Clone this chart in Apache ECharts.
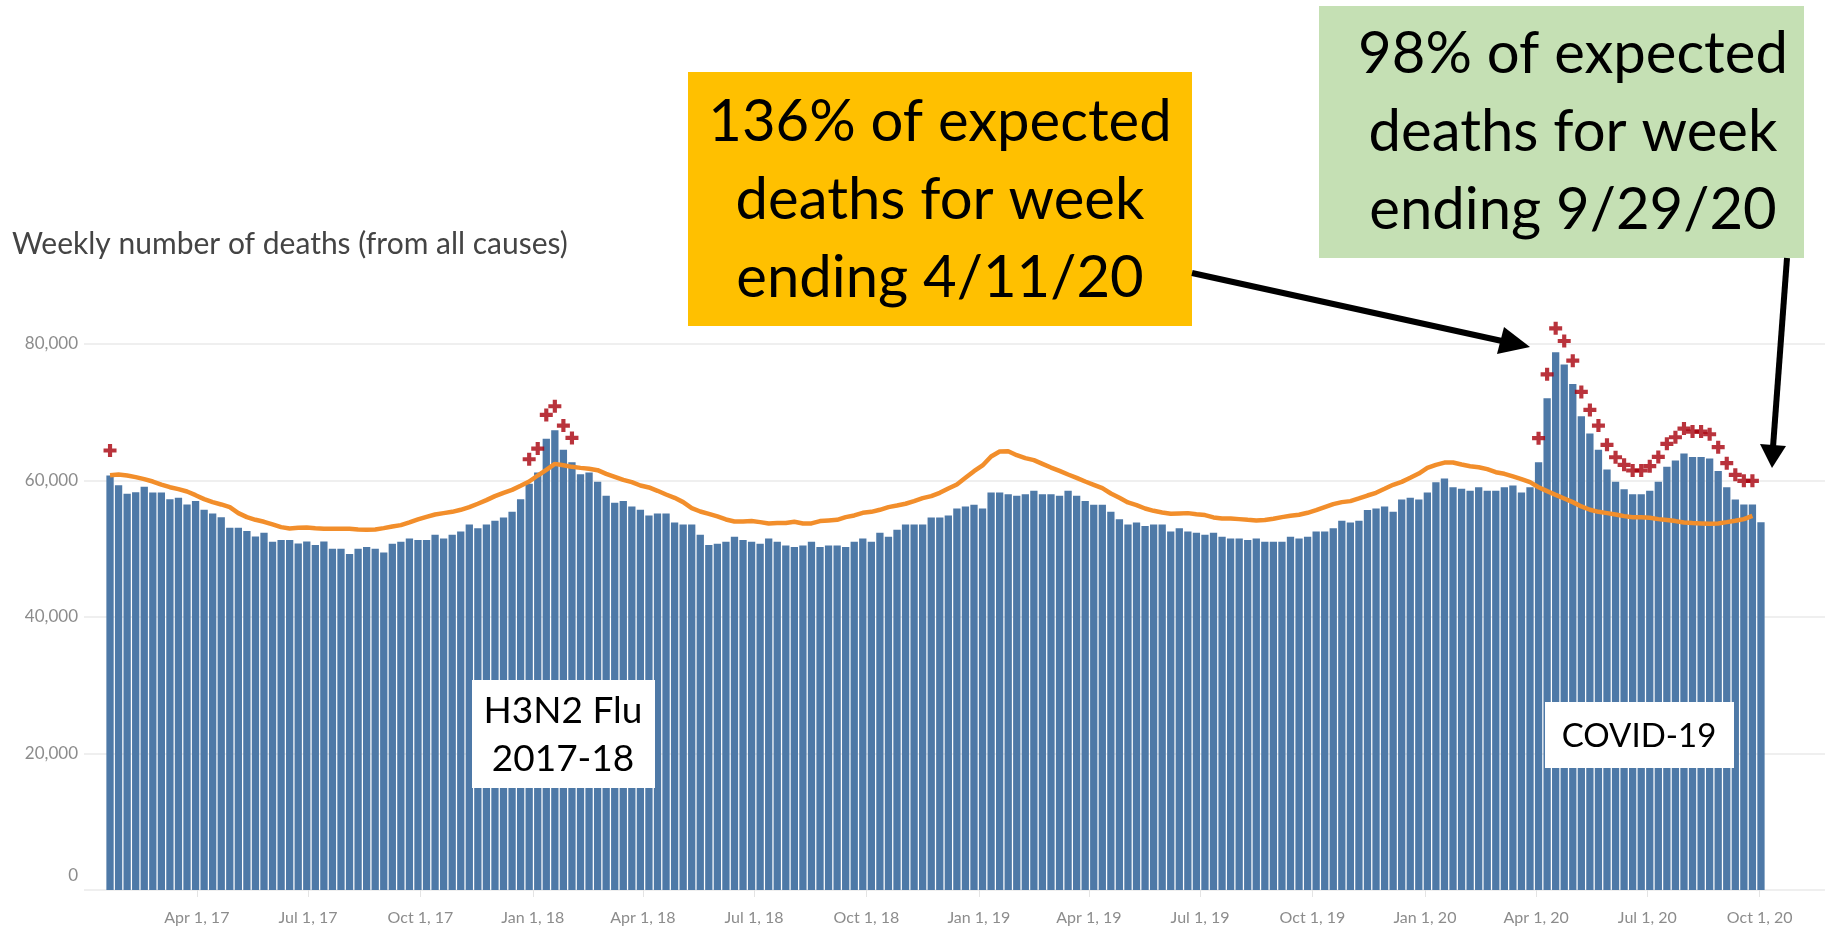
<!DOCTYPE html>
<html>
<head>
<meta charset="utf-8">
<title>Weekly number of deaths</title>
<script src="https://cdn.jsdelivr.net/npm/echarts@6.0.0/dist/echarts.min.js"></script>
<style>
  html, body { margin: 0; padding: 0; background: #fff; }
  #chart { width: 1825px; height: 932px; }
</style>
</head>
<body>
<div id="chart"></div>
<script>
// Weekly deaths (all causes), weeks ending Sat 14 Jan 2017 .. 26 Sep 2020
const DAY = 86400000;
const firstWeek = Date.UTC(2017, 0, 14);

const weeklyDeaths = [
  60730, 59320, 58050, 58290, 59070, 58240, 58240, 57270, 57460, 56490,
  56980, 55710, 55170, 54630, 53070, 53070, 52590, 51810, 52340, 51020,
  51270, 51270, 50780, 51070, 50540, 51070, 50000, 50000, 49220, 50000,
  50240, 50000, 49460, 50730, 51020, 51510, 51270, 51270, 52050, 51510,
  52050, 52540, 53560, 53020, 53560, 54100, 54590, 55410, 57270, 59510,
  61170, 66100, 67370, 64490, 62680, 60930, 61170, 59800, 57760, 56730,
  56980, 56200, 55710, 54880, 55170, 55170, 53850, 53560, 53560, 52050,
  50540, 50730, 51020, 51760, 51270, 51020, 50730, 51510, 51020, 50490,
  50240, 50490, 51020, 50240, 50490, 50490, 50240, 51020, 51510, 51020,
  52340, 51760, 52780, 53560, 53560, 53560, 54590, 54590, 54880, 55900,
  56200, 56440, 55900, 58240, 58240, 58000, 57760, 58000, 58490, 58000,
  58000, 57760, 58490, 57760, 56980, 56440, 56440, 55410, 54340, 53560,
  53850, 53320, 53560, 53560, 52540, 53020, 52540, 52340, 52050, 52340,
  51760, 51510, 51510, 51270, 51510, 51020, 51020, 51020, 51760, 51510,
  51760, 52540, 52540, 53020, 54100, 53850, 54100, 55660, 55900, 56200,
  55410, 57220, 57460, 57220, 58240, 59760, 60290, 59020, 58780, 58490,
  59020, 58490, 58490, 59020, 59270, 58240, 59020, 62680, 72050, 78780,
  76980, 74150, 69410, 66880, 64490, 61610, 59800, 58730, 58000, 58000,
  58490, 59800, 62000, 62930, 63950, 63460, 63460, 63220, 61410, 59020,
  57220, 56490, 56490, 53900
];

const expectedDeaths = [
  60780, 60880, 60730, 60490, 60200, 59850, 59410, 59020, 58730, 58390,
  57850, 57270, 56830, 56490, 56100, 55220, 54630, 54240, 53950, 53560,
  53170, 52980, 53070, 53120, 53020, 52930, 52930, 52930, 52930, 52830,
  52780, 52830, 53020, 53270, 53460, 53850, 54290, 54680, 55020, 55220,
  55410, 55710, 56100, 56590, 57120, 57710, 58200, 58630, 59220, 59850,
  60730, 61560, 62440, 62240, 62000, 61850, 61710, 61510, 60980, 60540,
  60100, 59760, 59270, 58980, 58490, 57950, 57460, 56830, 55950, 55460,
  55120, 54730, 54290, 54000, 54000, 54050, 53900, 53710, 53760, 53760,
  53950, 53710, 53710, 54050, 54150, 54240, 54630, 54880, 55270, 55410,
  55710, 56100, 56340, 56590, 56980, 57410, 57710, 58200, 58830, 59410,
  60390, 61370, 62200, 63510, 64240, 64290, 63710, 63270, 62980, 62440,
  61900, 61410, 60880, 60390, 59850, 59370, 58880, 58100, 57460, 56780,
  56390, 55900, 55560, 55320, 55120, 55170, 55220, 55070, 54930, 54590,
  54440, 54440, 54340, 54240, 54150, 54200, 54390, 54630, 54830, 54980,
  55270, 55660, 56100, 56540, 56830, 56980, 57370, 57800, 58200, 58780,
  59370, 59800, 60390, 61020, 61850, 62290, 62630, 62630, 62340, 62100,
  61950, 61660, 61220, 60980, 60590, 60200, 59760, 59020, 58440, 57900,
  57370, 56830, 56200, 55710, 55410, 55220, 55020, 54780, 54630, 54630,
  54540, 54340, 54200, 54050, 53850, 53760, 53710, 53660, 53710, 53900,
  54100, 54340, 54830, null
];

// weeks flagged "+" (above threshold) and where the mark sits
const plusWeeks = [0, 49, 50, 51, 52, 53, 54,
  167, 168, 169, 170, 171, 172, 173, 174, 175, 176, 177, 178, 179,
  180, 181, 182, 183, 184, 185, 186, 187, 188, 189, 190, 191, 192];
const plusValues = [64390, 63120, 64680, 69610, 70880, 68050, 66240,
  66200, 75560, 82290, 80440, 77560, 72980, 70340, 68050, 65220, 63410, 62290, 61460, 61460,
  62100, 63460, 65370, 66340, 67610, 67170, 67170, 66780, 64880, 62540, 60830, 59950, 59950];

const tickDates = ['2017-04-01', '2017-07-01', '2017-10-01', '2018-01-01', '2018-04-01',
  '2018-07-01', '2018-10-01', '2019-01-01', '2019-04-01', '2019-07-01', '2019-10-01',
  '2020-01-01', '2020-04-01', '2020-07-01', '2020-10-01'];
const tickLabels = ['Apr 1, 17', 'Jul 1, 17', 'Oct 1, 17', 'Jan 1, 18', 'Apr 1, 18',
  'Jul 1, 18', 'Oct 1, 18', 'Jan 1, 19', 'Apr 1, 19', 'Jul 1, 19', 'Oct 1, 19',
  'Jan 1, 20', 'Apr 1, 20', 'Jul 1, 20', 'Oct 1, 20'];

const weekDates = weeklyDeaths.map((_, i) => firstWeek + i * 7 * DAY);
// the source draws its date ticks a few days ahead of the bar centres
const TICK_SHIFT = -6 * DAY;
const tickTimes = tickDates.map(d => Date.parse(d + 'T00:00:00Z') + TICK_SHIFT);

const FONT = 'Lato, "Open Sans", sans-serif';
const PLUS = 'path://M3.4,0H6.6V3.4H10V6.6H6.6V10H3.4V6.6H0V3.4H3.4Z';
const AXIS_GREY = '#8c8c8c';

const chart = echarts.init(document.getElementById('chart'), null, { renderer: 'canvas' });

chart.setOption({
  animation: false,
  backgroundColor: '#fff',
  grid: { left: 84, right: 0, top: 344, bottom: 42, containLabel: false },
  xAxis: {
    // numeric time (ms) so ticks can sit on exact quarter starts
    type: 'value',
    min: weekDates[0] - 21.3 * DAY,
    max: weekDates[weekDates.length - 1] + 52.4 * DAY,
    axisLine: { show: false },
    splitLine: { show: false },
    axisTick: {
      show: true, customValues: tickTimes, length: 7,
      lineStyle: { color: '#e4e4e4', width: 1 }
    },
    axisLabel: {
      customValues: tickTimes,
      margin: 20,
      color: AXIS_GREY,
      fontSize: 16,
      fontFamily: FONT,
      formatter: v => {
        const k = tickTimes.indexOf(v);
        return k < 0 ? '' : tickLabels[k];
      }
    }
  },
  yAxis: {
    type: 'value',
    min: 0, max: 80000, interval: 20000,
    axisLine: { show: false },
    axisTick: { show: false },
    splitLine: { lineStyle: { color: '#efefef', width: 2 } },
    axisLabel: {
      margin: 6,
      color: AXIS_GREY,
      fontSize: 17,
      fontFamily: FONT,
      formatter: v => v === 0 ? '{z|0}' : v.toLocaleString('en-US'),
      rich: { z: { color: AXIS_GREY, fontSize: 17, fontFamily: FONT, padding: [0, 0, 28, 0] } }
    }
  },
  series: [
    {
      name: 'Weekly deaths',
      type: 'bar',
      barWidth: 7.3,
      itemStyle: { color: '#4E79A7' },
      data: weekDates.map((t, i) => [t, weeklyDeaths[i]]),
      z: 2
    },
    {
      name: 'Expected',
      type: 'line',
      symbol: 'none',
      lineStyle: { color: '#F28E2B', width: 4.5 },
      data: weekDates.map((t, i) => [t, expectedDeaths[i]]),
      z: 3
    },
    {
      name: 'Above threshold',
      type: 'scatter',
      symbol: PLUS,
      symbolSize: 13,
      clip: false,
      itemStyle: { color: '#A8000B' },
      data: plusWeeks.map((w, k) => [weekDates[w], plusValues[k]]),
      z: 4
    }
  ],
  graphic: [
    {
      type: 'text', left: 12, top: 229, z: 10,
      style: { text: 'Weekly number of deaths (from all causes)', font: '30px ' + FONT, fill: '#444' }
    },
    // H3N2 label
    { type: 'rect', shape: { x: 472, y: 680, width: 183, height: 108 }, style: { fill: '#fff' }, z: 10 },
    {
      type: 'text', x: 563, y: 735, z: 11,
      style: { text: 'H3N2 Flu\n2017-18', font: '37px ' + FONT, fill: '#000', align: 'center', verticalAlign: 'middle', lineHeight: 48 }
    },
    // COVID label
    { type: 'rect', shape: { x: 1545, y: 702, width: 189, height: 66 }, style: { fill: '#fff' }, z: 10 },
    {
      type: 'text', x: 1639, y: 736, z: 11,
      style: { text: 'COVID-19', font: '33px ' + FONT, fill: '#000', align: 'center', verticalAlign: 'middle' }
    },
    // orange callout
    { type: 'rect', shape: { x: 688, y: 72, width: 504, height: 254 }, style: { fill: '#FFC000' }, z: 10 },
    {
      type: 'text', x: 940, y: 200, z: 11,
      style: { text: '136% of expected\ndeaths for week\nending 4/11/20', font: '58px ' + FONT, fill: '#000', align: 'center', verticalAlign: 'middle', lineHeight: 78 }
    },
    // green callout
    { type: 'rect', shape: { x: 1319, y: 6, width: 485, height: 252 }, style: { fill: '#C5E0B4' }, z: 10 },
    {
      type: 'text', x: 1573, y: 132, z: 11,
      style: { text: '98% of expected\ndeaths for week\nending 9/29/20', font: '58px ' + FONT, fill: '#000', align: 'center', verticalAlign: 'middle', lineHeight: 78 }
    },
    // arrows
    { type: 'line', shape: { x1: 1192, y1: 273, x2: 1502, y2: 341 }, style: { stroke: '#000', lineWidth: 6 }, z: 12 },
    { type: 'polygon', shape: { points: [[1530, 347], [1497, 354], [1504, 327]] }, style: { fill: '#000' }, z: 12 },
    { type: 'line', shape: { x1: 1787, y1: 258, x2: 1773, y2: 447 }, style: { stroke: '#000', lineWidth: 6 }, z: 12 },
    { type: 'polygon', shape: { points: [[1772, 468], [1760, 444], [1786, 446]] }, style: { fill: '#000' }, z: 12 }
  ]
});
</script>
</body>
</html>
